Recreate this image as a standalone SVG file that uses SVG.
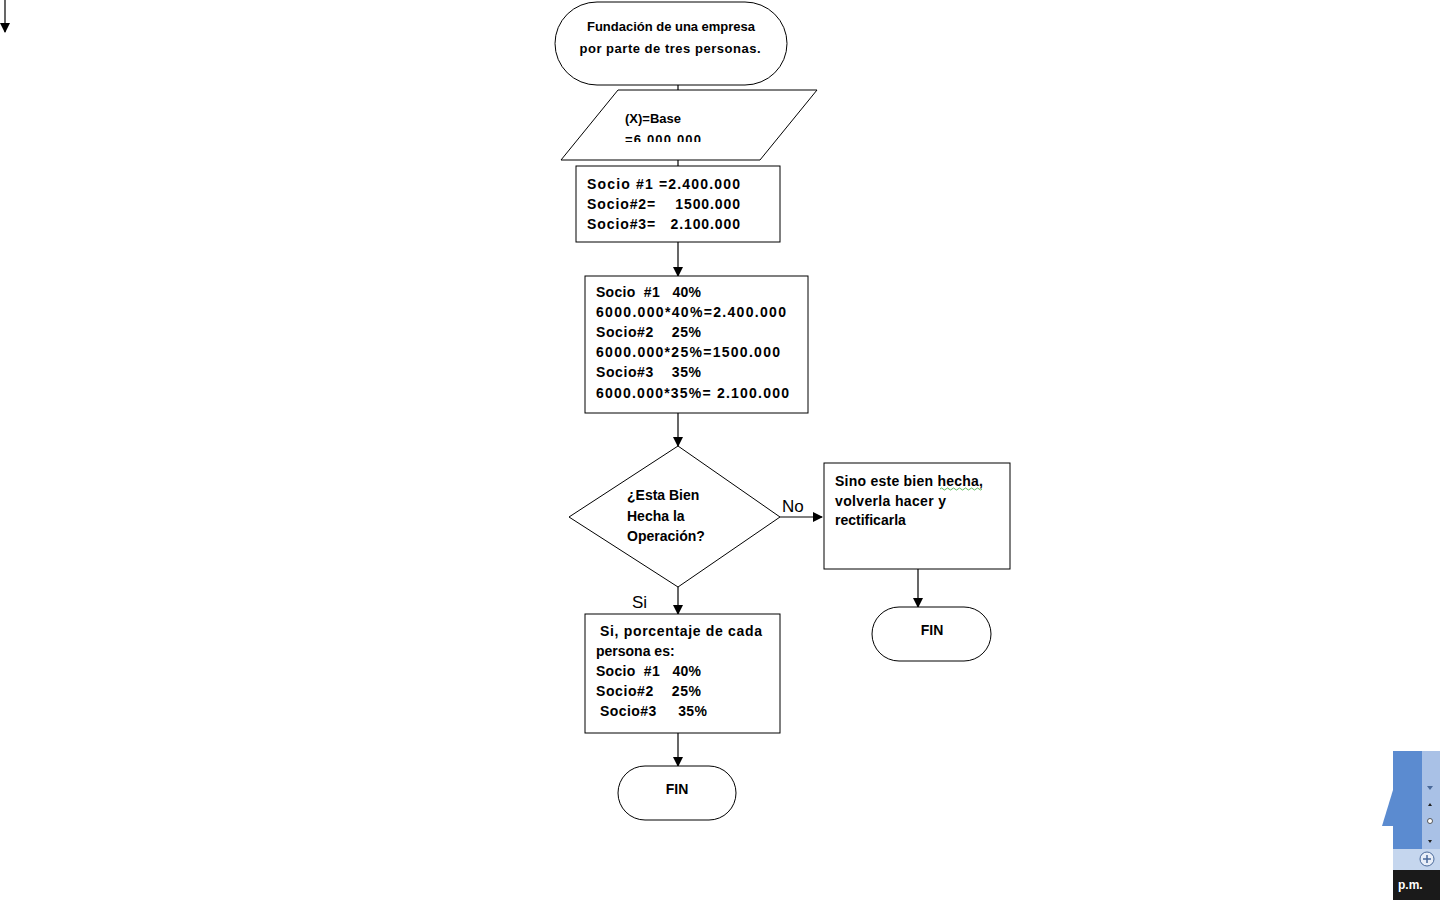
<svg xmlns="http://www.w3.org/2000/svg" width="1440" height="900" viewBox="0 0 1440 900">
<defs>
<marker id="ah" markerWidth="10" markerHeight="10" refX="9" refY="5" orient="auto" markerUnits="userSpaceOnUse">
<path d="M0,0 L10,5 L0,10 z" fill="#000"/>
</marker>
<clipPath id="pclip"><rect x="560" y="90" width="260" height="52"/></clipPath>
</defs>
<style>
.s{fill:#fff;stroke:#000;stroke-width:1}
.t{font-family:"Liberation Sans","DejaVu Sans",sans-serif;font-weight:bold;font-size:14px;fill:#000}
.h{font-size:13px}
.c{stroke:#000;stroke-width:1.2;fill:none}
.l{font-family:"Liberation Sans","DejaVu Sans",sans-serif;font-size:17px;fill:#000}
</style>
<rect width="1440" height="900" fill="#fff"/>
<g id="connectors">
<line class="c" x1="5" y1="0" x2="5" y2="32" marker-end="url(#ah)"/>
<line class="c" x1="678" y1="85" x2="678" y2="90"/>
<line class="c" x1="678" y1="160" x2="678" y2="166"/>
<line class="c" x1="678" y1="242" x2="678" y2="276" marker-end="url(#ah)"/>
<line class="c" x1="678" y1="413" x2="678" y2="446" marker-end="url(#ah)"/>
<line class="c" x1="780" y1="517" x2="822" y2="517" marker-end="url(#ah)"/>
<line class="c" x1="918" y1="569" x2="918" y2="607" marker-end="url(#ah)"/>
<line class="c" x1="678" y1="587" x2="678" y2="614" marker-end="url(#ah)"/>
<line class="c" x1="678" y1="733" x2="678" y2="766" marker-end="url(#ah)"/>
<text class="l" x="782" y="512">No</text>
<text class="l" x="632" y="608">Si</text>
</g>
<g id="start">
<rect class="s" x="555" y="2" width="232" height="83" rx="42" ry="42"/>
<text class="t h" x="671" y="31" text-anchor="middle" textLength="168" lengthAdjust="spacing">Fundación de una empresa</text>
<text class="t h" x="670" y="53" text-anchor="middle" textLength="181" lengthAdjust="spacing">por parte de tres personas.</text>
</g>
<g id="input">
<polygon class="s" points="618,90 817,90 760,160 561,160"/>
<g clip-path="url(#pclip)">
<text class="t h" x="625" y="123">(X)=Base</text>
<text class="t h" x="625" y="144" textLength="76" lengthAdjust="spacing">=6.000.000</text>
</g>
</g>
<g id="box1">
<rect class="s" x="576" y="166" width="204" height="76"/>
<text class="t" x="587" y="189" textLength="153" lengthAdjust="spacing">Socio #1  =2.400.000</text>
<text class="t" x="587" y="209" xml:space="preserve" textLength="153" lengthAdjust="spacing">Socio#2=    1500.000</text>
<text class="t" x="587" y="229" xml:space="preserve" textLength="153" lengthAdjust="spacing">Socio#3=   2.100.000</text>
</g>
<g id="box2">
<rect class="s" x="585" y="276" width="223" height="137"/>
<text class="t" x="596" y="297" xml:space="preserve" textLength="105" lengthAdjust="spacing">Socio  #1   40%</text>
<text class="t" x="596" y="317" textLength="190" lengthAdjust="spacing">6000.000*40%=2.400.000</text>
<text class="t" x="596" y="337" xml:space="preserve" textLength="105" lengthAdjust="spacing">Socio#2    25%</text>
<text class="t" x="596" y="357" textLength="184" lengthAdjust="spacing">6000.000*25%=1500.000</text>
<text class="t" x="596" y="377" xml:space="preserve" textLength="105" lengthAdjust="spacing">Socio#3    35%</text>
<text class="t" x="596" y="398" textLength="193" lengthAdjust="spacing">6000.000*35%= 2.100.000</text>
</g>
<g id="decision">
<polygon class="s" points="678,446 780,517 678,587 569,517"/>
<text class="t" x="627" y="500">¿Esta Bien</text>
<text class="t" x="627" y="521">Hecha la</text>
<text class="t" x="627" y="541">Operación?</text>
</g>
<g id="boxNo">
<rect class="s" x="824" y="463" width="186" height="106"/>
<text class="t" x="835" y="486" textLength="148" lengthAdjust="spacing">Sino este bien hecha,</text>
<path d="M940,489 q1.5,-2 3,0 t3,0 t3,0 t3,0 t3,0 t3,0 t3,0 t3,0 t3,0 t3,0 t3,0 t3,0 t3,0 t3,0" fill="none" stroke="#3a3" stroke-width="0.8"/>
<text class="t" x="835" y="506" textLength="111" lengthAdjust="spacing">volverla hacer y</text>
<text class="t" x="835" y="525">rectificarla</text>
</g>
<g id="fin1">
<rect class="s" x="872" y="607" width="119" height="54" rx="27" ry="27"/>
<text class="t" x="932" y="635" text-anchor="middle">FIN</text>
</g>
<g id="boxSi">
<rect class="s" x="585" y="614" width="195" height="119"/>
<text class="t" x="600" y="636" textLength="162" lengthAdjust="spacing">Si, porcentaje de cada</text>
<text class="t" x="596" y="656">persona es:</text>
<text class="t" x="596" y="676" xml:space="preserve" textLength="105" lengthAdjust="spacing">Socio  #1   40%</text>
<text class="t" x="596" y="696" xml:space="preserve" textLength="105" lengthAdjust="spacing">Socio#2    25%</text>
<text class="t" x="600" y="716" xml:space="preserve" textLength="107" lengthAdjust="spacing">Socio#3     35%</text>
</g>
<g id="fin2">
<rect class="s" x="618" y="766" width="118" height="54" rx="27" ry="27"/>
<text class="t" x="677" y="794" text-anchor="middle">FIN</text>
</g>
<g id="corner">
<rect x="1393" y="751" width="47" height="100" fill="#5b8bd0"/>
<path d="M1393,790 L1382,826 L1393,826 z" fill="#5b8bd0"/>
<rect x="1422" y="751" width="18" height="100" fill="#a9c1e6"/>
<path d="M1427,786 l6,0 l-3,4 z" fill="#4a6a9a"/>
<path d="M1428,806 l2,-3 l2,3 z M1428,840 l2,3 l2,-3 z" fill="#222"/>
<circle cx="1430" cy="821" r="2.5" fill="#fff" stroke="#333" stroke-width="0.8"/>
<rect x="1393" y="849" width="47" height="21" fill="#c5d6ee"/>
<circle cx="1427" cy="859" r="7" fill="#e8eef8" stroke="#4a6a9a"/>
<path d="M1423,859 h8 M1427,855 v8" stroke="#4a6a9a" stroke-width="1.5"/>
<rect x="1393" y="870" width="47" height="30" fill="#1a1a1a"/>
<text x="1398" y="889" font-family="Liberation Sans,sans-serif" font-weight="bold" font-size="12" fill="#fff">p.m.</text>
</g>
</svg>
